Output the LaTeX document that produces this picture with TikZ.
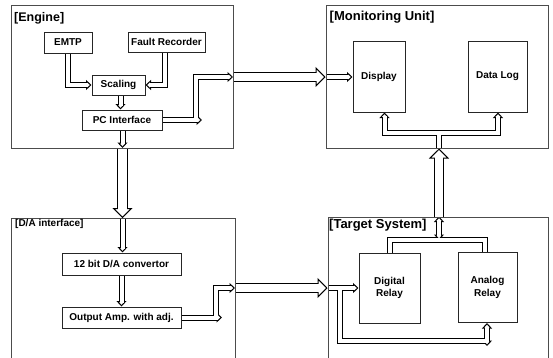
\documentclass[tikz,border=0pt]{standalone}
\usepackage{fontspec}
\setmainfont{Liberation Sans}
\usetikzlibrary{arrows.meta,calc}
\pgfdeclarelayer{bgl}
\pgfdeclarelayer{hout}
\pgfdeclarelayer{hhead}
\pgfdeclarelayer{hin}
\pgfsetlayers{bgl,hout,hhead,hin,main}
\tikzset{
  sm/.style={/utils/exec={\def\hD{4pt}\def\hL{5.5pt}}},
  bg/.style={/utils/exec={\def\hD{8.5pt}\def\hL{10pt}}},
  hout00/.style={line width=\hD+2pt},
  hout01/.style={line width=\hD+2pt, shorten >=\hL-0.8pt},
  hout10/.style={line width=\hD+2pt, shorten <=\hL-0.8pt},
  hout11/.style={line width=\hD+2pt, shorten >=\hL-0.8pt, shorten <=\hL-0.8pt},
  hin00/.style={draw=white, line width=\hD},
  hin01/.style={draw=white, line width=\hD, shorten >=\hL-1.8pt},
  hin10/.style={draw=white, line width=\hD, shorten <=\hL-1.8pt},
  hin11/.style={draw=white, line width=\hD, shorten >=\hL-1.8pt, shorten <=\hL-1.8pt},
  smtip00/.style={draw=none},
  smtip01/.style={-{Triangle[length=5.5pt,width=10pt,fill=white]}},
  smtip10/.style={{Triangle[length=5.5pt,width=10pt,fill=white]}-},
  smtip11/.style={{Triangle[length=5.5pt,width=10pt,fill=white]}-{Triangle[length=5.5pt,width=10pt,fill=white]}},
  bgtip00/.style={draw=none},
  bgtip01/.style={-{Triangle[length=10pt,width=20pt,fill=white]}},
  bgtip10/.style={{Triangle[length=10pt,width=20pt,fill=white]}-},
  bgtip11/.style={{Triangle[length=10pt,width=20pt,fill=white]}-{Triangle[length=10pt,width=20pt,fill=white]}},
}
% general hollow connector: size, ends, path
\newcommand\harrow[3]{%
  \begin{pgfonlayer}{hout}\draw[#1, black, hout#2] #3;\end{pgfonlayer}%
  \begin{pgfonlayer}{hhead}\draw[#1, black, line width=1pt, #1tip#2] #3;\end{pgfonlayer}%
  \begin{pgfonlayer}{hin}\draw[#1, hin#2] #3;\end{pgfonlayer}%
}
% straight hollow connector with one head: size, from, to
\newcommand\sarrow[3]{%
  \begin{pgfonlayer}{hout}\draw[#1, black, hout00] #2 -- ($#3!{\hL-0.8pt}!#2$);\end{pgfonlayer}%
  \begin{pgfonlayer}{hhead}\draw[#1, black, line width=1pt, #1tip01] #2 -- #3;\end{pgfonlayer}%
  \begin{pgfonlayer}{hin}\draw[#1, hin00] #2 -- ($#3!{\hL-1.8pt}!#2$);\end{pgfonlayer}%
}
\begin{document}
\begin{tikzpicture}[x=1pt,y=-1pt,
  box/.style={draw=black!85, line width=1pt, inner sep=0pt, align=center,
    font=\bfseries\fontsize{10}{12.5}\selectfont},
  grp/.style={draw=black!70, line width=1pt, inner sep=0pt},
  hdr/.style={anchor=west, inner sep=0pt, font=\bfseries\fontsize{#1}{#1}\selectfont},
]
\useasboundingbox (0,0) rectangle (553,357);
\begin{pgfonlayer}{bgl}
\fill[white] (0,0) rectangle (553,357);
\end{pgfonlayer}

% group boxes
\begin{scope}
\clip (0,0) rectangle (553,357);
\node[grp, minimum width=222pt, minimum height=143pt] (eng) at (122,76.5) {};
\node[grp, minimum width=222pt, minimum height=143pt] (mon) at (437,76.5) {};
\node[grp, minimum width=224pt, minimum height=162pt] (da) at (123,299) {};
\node[grp, minimum width=220pt, minimum height=163pt] (tgt) at (438,298.5) {};
\end{scope}

\node[hdr=12.5] (englbl) at (14,18) {[Engine]};
\node[hdr=13] (monlbl) at (329.5,17.5) {[Monitoring Unit]};
\node[hdr=10] (dalbl) at (15,224) {[D/A interface]};
\node[hdr=13] (tgtlbl) at (329,225.5) {[Target System]};

% engine
\node[box, minimum width=48pt, minimum height=21pt] (emtp) at (68,42.5) {EMTP};
\node[box, minimum width=77pt, minimum height=20pt] (fault) at (166.5,42) {Fault Recorder};
\node[box, minimum width=53pt, minimum height=20pt] (scal) at (118.5,85) {Scaling};
\node[box, minimum width=80pt, minimum height=20pt] (pci) at (122,120) {PC Interface};
% monitoring
\node[box, minimum width=52pt, minimum height=71pt] (disp) at (379,76.5) {Display};
\node[box, minimum width=59pt, minimum height=71pt] (dlog) at (497.5,76.5) {Data Log};
% D/A
\node[box, minimum width=119pt, minimum height=22pt] (conv) at (121.5,264) {12 bit D/A convertor};
\node[box, minimum width=119pt, minimum height=21pt] (amp) at (121.5,317.5) {Output Amp. with adj.};
% target
\node[box, minimum width=61pt, minimum height=70pt] (drel) at (389.5,288) {Digital\\Relay};
\node[box, minimum width=59pt, minimum height=70pt] (arel) at (487.5,287.5) {Analog\\Relay};

% coordinates
\coordinate (e1x) at (67.5,0);
\coordinate (e2x) at (164.5,0);
\coordinate (e3x) at (120.5,0);
\coordinate (pC) at (122.5,0);
\coordinate (pE) at (122.5,148);
\coordinate (pF) at (122.5,218);
\coordinate (j1) at (195.5,120);
\coordinate (e4e) at (202,120);
\coordinate (pA) at (233,77);
\coordinate (j6) at (216,317.5);
\coordinate (d3e) at (222,317.5);
\coordinate (pD) at (235,288);
\coordinate (j2) at (340,288);
\coordinate (j3) at (487,340.5);
\coordinate (j4) at (487,346);
\coordinate (tb1) at (389.5,240);
\coordinate (tb2) at (484.5,240);
\coordinate (tx) at (439,240);
\coordinate (mb) at (439,133);
\coordinate (mb1) at (384.5,133);
\coordinate (mb2) at (498,133);

% engine connectors
\harrow{sm}{01}{(emtp.south -| e1x) |- (scal.west)}
\harrow{sm}{01}{(fault.south -| e2x) |- (scal.east)}
\sarrow{sm}{(scal.south -| e3x)}{(pci.north -| e3x)}
\harrow{sm}{01}{(pci.east) -- (e4e)}
\harrow{sm}{01}{(j1) |- (pA)}
\sarrow{sm}{(pci.south -| pC)}{(pE)}
% between blocks
\harrow{bg}{01}{(pA) -- (mon.west |- pA)}
\sarrow{bg}{(pE)}{(pF)}
\harrow{bg}{01}{(pD) -- (tgt.west |- pD)}
\harrow{bg}{01}{(tgt.north -| tx) -- (mon.south -| tx)}
% monitoring
\harrow{sm}{01}{(mon.west |- pA) -- (disp.west |- pA)}
\harrow{sm}{00}{(mon.south -| mb) -- (mb)}
\harrow{sm}{11}{(disp.south -| mb1) -- (mb1) -- (mb2) -- (dlog.south -| mb2)}
% D/A
\sarrow{sm}{(pF)}{(conv.north -| pC)}
\sarrow{sm}{(conv.south)}{(amp.north)}
\harrow{sm}{01}{(amp.east) -- (d3e)}
\harrow{sm}{01}{(j6) |- (pD)}
% target
\harrow{sm}{01}{(tgt.west |- pD) -- (drel.west |- pD)}
\harrow{sm}{00}{(j2) |- (j3)}
\harrow{sm}{11}{(arel.south -| j3) -- (j4)}
\harrow{sm}{00}{(drel.north -| tb1) -- (tb1) -- (tb2) -- (arel.north -| tb2)}
\harrow{sm}{11}{(tgt.north -| tx) -- (tx)}
\end{tikzpicture}
\end{document}
